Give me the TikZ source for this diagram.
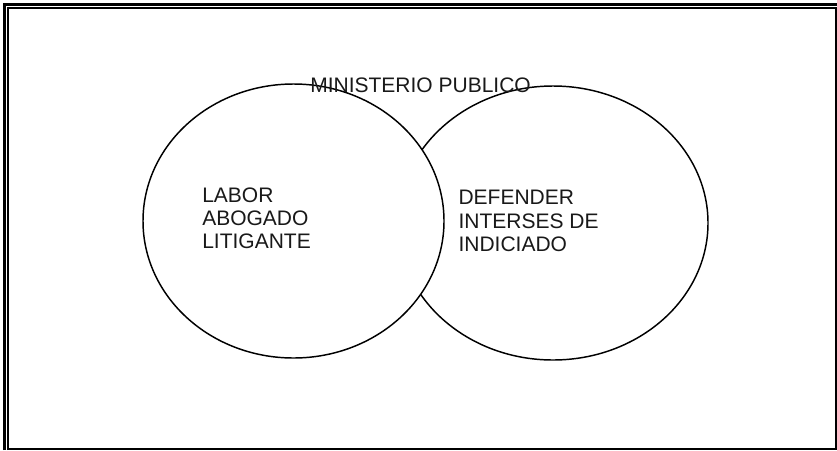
\documentclass[tikz,border=0pt]{standalone}
\usepackage{fontspec}
\setmainfont{Liberation Sans}
\usetikzlibrary{shapes.geometric}
\begin{document}
\begin{tikzpicture}[x=0.75pt,y=-0.75pt,
  venn/.style={ellipse,draw=black,line width=1.1pt,fill=white,inner sep=0pt},
  lbl/.style={inner sep=0pt,align=left,font=\fontsize{15.75}{17.5}\selectfont,text=black!90},
  frame/.style={draw=black,line cap=butt}]
\useasboundingbox (0,0) rectangle (837,450);
% page frame
\draw[frame,line width=1.9pt] (4.5,450) -- (4.5,4.7) -- (837,4.7);
\draw[frame,line width=1.5pt] (7.8,450) -- (7.8,8) -- (837,8);
\draw[frame,line width=2.2pt] (836.2,8) -- (836.2,450);
\draw[frame,line width=1.8pt] (7,449) -- (837,449);
% ellipses
\node[venn,minimum width=232.5pt,minimum height=205.5pt] (right) at (553,223) {};
\node[venn,minimum width=225.75pt,minimum height=205.5pt] (left) at (293.5,221) {};
% texts
\node[lbl,anchor=base west] (title) at (310,92.3) {MINISTERIO PUBLICO};
\node[lbl,anchor=north west] (ltext) at (202,187.3) {LABOR\\ABOGADO\\LITIGANTE};
\node[lbl,anchor=north west] (rtext) at (458.3,190) {DEFENDER\\INTERSES DE\\INDICIADO};
\end{tikzpicture}
\end{document}
